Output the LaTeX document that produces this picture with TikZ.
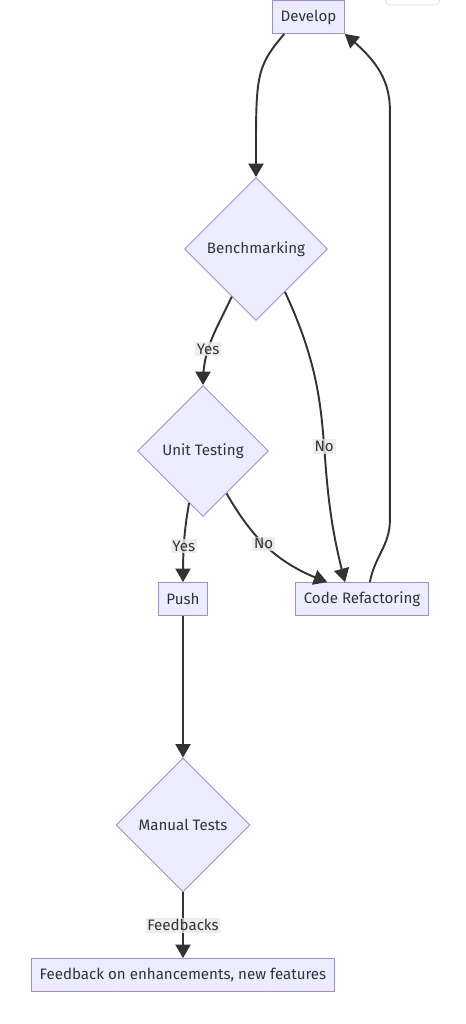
\documentclass[tikz,border=0pt]{standalone}
\usepackage{fontspec}
\setmainfont{Fira Sans}
\usepackage{xcolor}
\usetikzlibrary{shapes.geometric, arrows}
\definecolor{nodefill}{HTML}{ECECFF}
\definecolor{nodeline}{HTML}{A08CE0}
\definecolor{ink}{HTML}{333333}
\definecolor{lblfill}{HTML}{E8E8E8}
\tikzstyle{process} = [font=\fontsize{8.6}{10}\selectfont, rectangle, minimum height=0.66cm, inner xsep=0.16cm, draw=nodeline, fill=nodefill, text=ink, line width=0.5pt]
\tikzstyle{decision} = [font=\fontsize{8.6}{10}\selectfont, diamond, aspect=1, inner sep=0pt, draw=nodeline, fill=nodefill, text=ink, line width=0.5pt]
\tikzstyle{anno} = [font=\fontsize{8.6}{10}\selectfont, fill=lblfill, fill opacity=0.8, text opacity=1, text=ink, inner sep=1pt]
\tikzstyle{arrow} = [line width=1.1pt, draw=ink, ->, >=triangle 60]

\begin{document}
\begin{tikzpicture}
\useasboundingbox (0,0) rectangle (9.32,-20.48);
  \node (develop) [process] at (6.17,-0.34) {Develop};
  \node (bench) [decision, minimum size=2.86cm, below of=develop, xshift=-1.05cm, yshift=-3.64cm]{Benchmarking};
  \node (unit) [decision, minimum size=2.62cm, below of=bench, xshift=-1.06cm, yshift=-3.04cm]{Unit Testing};
  \node (push) [process, below of=unit, xshift=-0.4cm, yshift=-1.96cm]{Push};
  \node (refac) [process, right of=push, xshift=2.58cm]{Code Refactoring};
  \node (manual) [decision, minimum size=2.68cm, below of=push, yshift=-3.52cm]{Manual Tests};
  \node (feedback) [process, below of=manual, yshift=-2cm]{Feedback on enhancements, new features};
\draw[gray!25, rounded corners=3pt] (7.7,0.12) rectangle (8.8,-0.1);
\draw[arrow] (develop.215) .. controls +(-0.6,-0.7) and +(0,2) .. (bench.north);
\draw[arrow] (bench.243) to[out=-115,in=90] node[anno, pos=0.62]{Yes} (unit.north);
\draw[arrow] (bench.304) to[out=-65,in=105,looseness=1.15] node[anno, pos=0.55]{No} (refac.135);
\draw[arrow] (unit.255) to[out=-100,in=90] node[anno, pos=0.55]{Yes} (push.north);
\draw[arrow] (unit.299) to[out=-60,in=160] node[anno, pos=0.45]{No} (refac.154);
\draw[arrow] (push) -- (manual);
\draw[arrow] (manual) -- node[anno]{Feedbacks} (feedback);
\draw[arrow] (refac.65) to[out=80,in=-90] ++(0.4,1.24) -- ++(0,8.2) to[out=90,in=-40] (develop.south east);
\end{tikzpicture}
\end{document}
